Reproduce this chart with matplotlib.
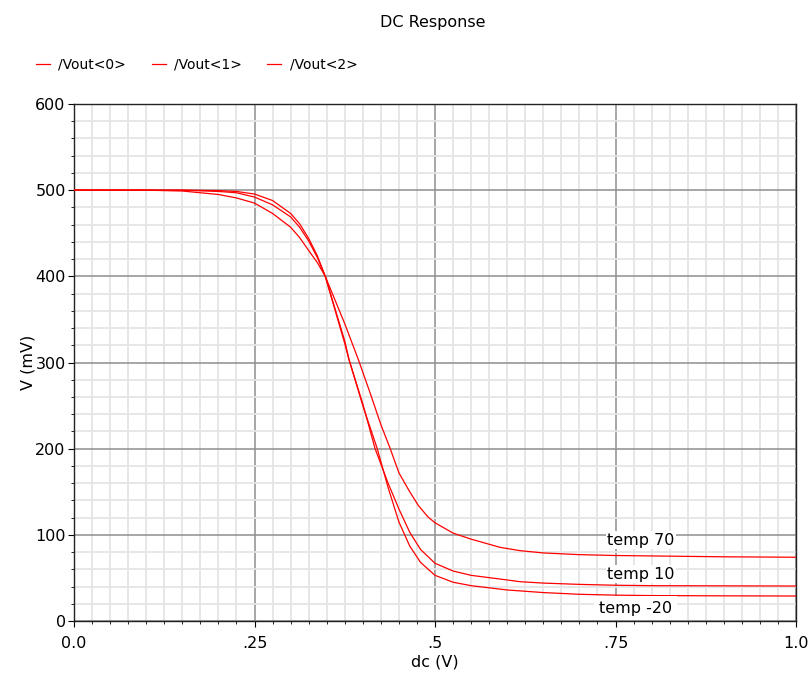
import matplotlib
matplotlib.use("Agg")
import matplotlib.pyplot as plt
from matplotlib.ticker import MultipleLocator, FixedLocator

# ---- data (dc sweep in V, output in mV) ----
x_t70 = [0.0, 0.10, 0.15, 0.20, 0.225, 0.25, 0.275, 0.30, 0.3125, 0.325, 0.337, 0.348, 0.375,
         0.394, 0.41, 0.425, 0.438, 0.45, 0.465, 0.477, 0.49, 0.50, 0.525, 0.55, 0.59, 0.618,
         0.65, 0.70, 0.75, 0.80, 0.90, 1.0]
y_t70 = [500, 500, 499, 495, 491, 485, 473, 457, 445, 430, 416, 400, 345,
         303, 265, 228, 200, 172, 150, 134, 121, 114, 102, 95, 85.5, 81.6,
         79, 77, 76, 75.5, 74.5, 74]

x_t10 = [0.0, 0.10, 0.15, 0.20, 0.225, 0.25, 0.275, 0.30, 0.3125, 0.325, 0.337, 0.348, 0.375,
         0.381, 0.40, 0.417, 0.435, 0.45, 0.465, 0.48, 0.50, 0.525, 0.55, 0.60, 0.618, 0.65,
         0.70, 0.75, 0.80, 0.90, 1.0]
y_t10 = [500, 500, 500, 498.5, 497, 492, 483, 469, 457, 441, 422, 400, 325,
         303, 252, 200, 160, 130, 103, 83, 67, 58, 53, 47.6, 45.6, 44,
         42.5, 41.5, 41, 40.8, 40.6]

x_tm20 = [0.0, 0.10, 0.15, 0.20, 0.225, 0.25, 0.275, 0.30, 0.3125, 0.325, 0.337, 0.348, 0.375,
          0.381, 0.40, 0.42, 0.435, 0.45, 0.465, 0.48, 0.50, 0.525, 0.55, 0.60, 0.65, 0.70,
          0.75, 0.80, 0.90, 1.0]
y_tm20 = [500, 500, 500, 499.5, 498.5, 495.5, 488, 473, 461, 444, 424, 400, 322,
          303, 250, 200, 155, 115, 87, 68, 53, 45, 41, 36, 33, 31,
          30, 29.5, 29.2, 29]

series_names = ["/Vout<0>", "/Vout<1>", "/Vout<2>"]
temp_labels = ["temp 70", "temp 10", "temp -20"]
label_pos_x = [0.785, 0.785, 0.778]
label_pos_y = [94, 54.5, 15]
label_pads = [1.0, 1.0, 3.5]

xtick_vals = [0.0, 0.25, 0.5, 0.75, 1.0]
xtick_labels = ["0.0", ".25", ".5", ".75", "1.0"]
ytick_vals = [0, 100, 200, 300, 400, 500, 600]

# ---- figure ----
plt.rcParams['font.family'] = ['DejaVu Sans']
fig = plt.figure(figsize=(8.11, 6.73), dpi=100)
ax = fig.add_axes([74/811, 1-621/673, (796-74)/811, (621-104)/673])

red = '#ff0000'
lines = []
for xs, ys, name in zip([x_t70, x_t10, x_tm20], [y_t70, y_t10, y_tm20], series_names):
    ln, = ax.plot(xs, ys, color=red, lw=0.9, zorder=3, label=name)
    lines.append(ln)

for lab, lx, ly, pd in zip(temp_labels, label_pos_x, label_pos_y, label_pads):
    ax.text(lx, ly, lab, fontsize=11.5, ha='center', va='center', zorder=6,
            bbox=dict(facecolor='white', edgecolor='none', pad=pd))

ax.set_xlim(0, 1.0)
ax.set_ylim(0, 600)
ax.xaxis.set_major_locator(FixedLocator(xtick_vals))
ax.set_xticklabels(xtick_labels)
ax.yaxis.set_major_locator(FixedLocator(ytick_vals))
ax.xaxis.set_minor_locator(MultipleLocator(0.025))
ax.yaxis.set_minor_locator(MultipleLocator(20))

ax.grid(which='minor', color='#e5e5e5', lw=1.3, zorder=0)
ax.grid(which='major', color='#8e8e8e', lw=1.1, zorder=1)
ax.set_axisbelow(True)

ax.tick_params(axis='both', which='both', direction='out', labelsize=11.5, colors='black')
ax.tick_params(axis='x', which='major', length=4, pad=7)
ax.tick_params(axis='x', which='minor', length=2.5)
ax.tick_params(axis='y', which='major', length=4.5, pad=1.5)
ax.tick_params(axis='y', which='minor', length=2.5)

for s in ax.spines.values():
    s.set_color('#222222')
    s.set_linewidth(1.0)

ax.set_xlabel("dc (V)", fontsize=11.5, labelpad=2)
ax.set_ylabel("V (mV)", fontsize=11.5, labelpad=0)

fig.text(433/811, 1-22/673, "DC Response", ha='center', va='center', fontsize=11.5)

fig.legend(handles=lines, labels=series_names, loc='center left',
           bbox_to_anchor=(36/811, 1-65/673), ncol=3, frameon=False, fontsize=10,
           handlelength=1.0, handletextpad=0.6, columnspacing=1.85,
           borderpad=0, borderaxespad=0)

fig.savefig("out.png", dpi=100)
